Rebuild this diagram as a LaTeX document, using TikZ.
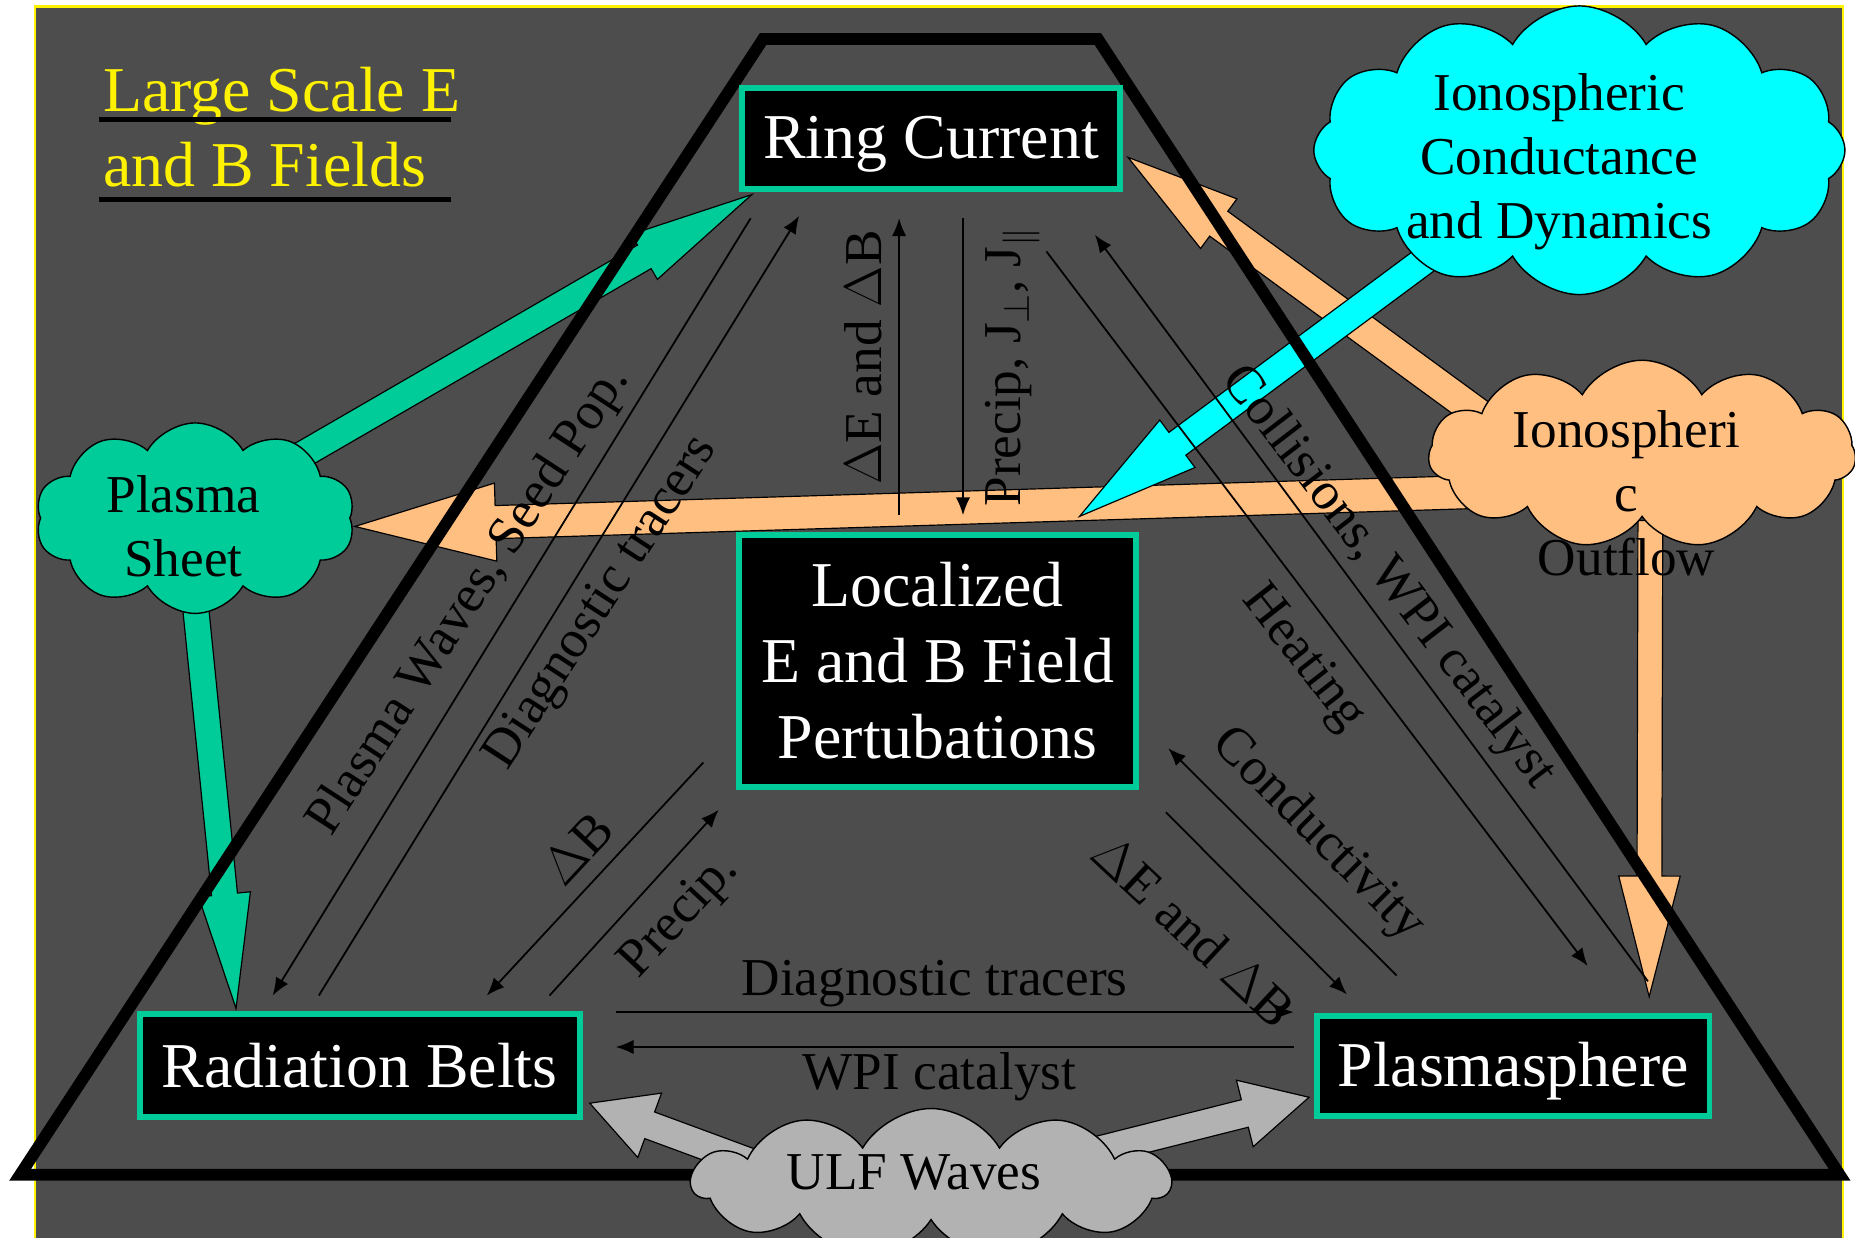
\RequirePackage{fix-cm}
\documentclass[tikz,border=0pt]{standalone}
\usepackage{fontspec}
\setmainfont{Liberation Serif}
\usepackage{tikz}
\usetikzlibrary{arrows.meta,shapes.symbols,calc,positioning}

\definecolor{slate}{RGB}{77,77,77}
\definecolor{seagreen}{RGB}{0,204,153}
\definecolor{iono}{RGB}{0,255,255}
\definecolor{outflow}{RGB}{255,191,128}
\definecolor{ulfgray}{RGB}{178,178,178}

\pgfdeclarelayer{back}
\pgfdeclarelayer{middle}
\pgfsetlayers{back,middle,main}

% block arrow: start, tip, half shaft, half head, head length, colour
\newcommand{\fatarrow}[6]{%
  \coordinate (fa-base) at ($(#2)!#5!(#1)$);
  \filldraw[fill=#6, draw=black, line width=1pt, line join=miter]
    ($(#1)!#3!90:(#2)$) -- ($(fa-base)!#3!90:(#2)$) -- ($(fa-base)!#4!90:(#2)$)
    -- (#2) -- ($(fa-base)!#4!-90:(#2)$) -- ($(fa-base)!#3!-90:(#2)$)
    -- ($(#1)!#3!-90:(#2)$) -- cycle;
}

\begin{document}
\begin{tikzpicture}[x=1pt, y=-1pt,
        every node/.style={align=center},
        region/.style={draw=seagreen, line width=5pt, fill=black, text=white, inner sep=0pt, font=\fontsize{54}{64}\selectfont},
        puff/.style={cloud, cloud puffs=10, cloud puff arc=120, cloud ignores aspect, draw=black, line width=1.2pt, inner sep=0pt},
        puffword/.style={font=\fontsize{45}{54}\selectfont},
        lbl/.style={font=\fontsize{45}{54}\selectfont, inner sep=0pt},
        flow/.style={line width=1.5pt, -{Latex[length=15pt,width=12pt]}},
        title/.style={text=yellow, font=\fontsize{54}{64}\selectfont, anchor=base west, inner sep=0pt}
    ]
    \useasboundingbox (0,0) rectangle (1568,1046);

    % Nodes
    \node[region, minimum width=320pt, minimum height=86pt, text depth=2pt] (ring) at (787,117) {Ring Current};
    \node[region, minimum width=336pt, minimum height=213pt] (local) at (792.5,558.5) {Localized\\E and B Field\\Pertubations};
    \node[region, minimum width=372pt, minimum height=87pt] (radbelts) at (304,900.5) {Radiation Belts};
    \node[region, minimum width=332pt, minimum height=84pt, text depth=2pt] (psphere) at (1279,901) {Plasmasphere};

    \node[title] (title1) at (87,94.5) {Large Scale E};
    \node[title] (title2) at (87,158) {and B Fields};
    \draw[line width=4pt] (84,101) -- (381,101);
    \draw[line width=4pt] (84,168.5) -- (381,168.5);

    \begin{pgfonlayer}{middle}
    % Clouds
    \node[puff, fill=seagreen, minimum width=270pt, minimum height=161pt] (psheet) at (165,438) {};
    \node[puffword] (psheettext) at (155,445) {Plasma\\Sheet};
    \node[puff, fill=iono, cloud puffs=12, minimum width=449pt, minimum height=244pt] (ionoc) at (1335,127) {};
    \node[puffword] (ionoctext) at (1318,137) {Ionospheric\\Conductance\\and Dynamics};
    \node[puff, fill=outflow, cloud puffs=11, minimum width=361pt, minimum height=159pt] (ionoo) at (1388,384) {};
    \node[puffword] (ionootext) at (1375,417) {Ionospheri\\c\\Outflow};
    \node[puff, fill=ulfgray, cloud puffs=11, minimum width=404pt, minimum height=126pt] (ulf) at (787,1000) {};
    \node[puffword] (ulftext) at (772.5,991) {ULF Waves};
    \end{pgfonlayer}

    \begin{pgfonlayer}{back}
    \fill[white] (0,0) rectangle (1568,1046);
    \filldraw[fill=slate, draw=yellow, line width=2pt] (29.5,5.6) rectangle (1558,1070);

    % Block arrows
    \coordinate (o2rc-s) at ([shift={(-105,-10)}]ionoo.center);
    \coordinate (o2rc-t) at ([shift={(4,16)}]ring.east);
    \coordinate (o2ps-s) at ([shift={(-98,30.5)}]ionoo.center);
    \coordinate (o2ps-t) at ([shift={(135,7)}]psheet.center);
    \coordinate (o2pp-s) at ([shift={(7,56)}]ionoo.center);
    \coordinate (o2pp-t) at ([shift={(115,-14)}]psphere.north);
    \coordinate (g2rc-s) at ([shift={(55,-33)}]psheet.center);
    \coordinate (g2rc-t) at ([shift={(11,2)}]ring.south west);
    \coordinate (g2rb-s) at ([shift={(-3,42)}]psheet.center);
    \coordinate (g2rb-t) at ([shift={(84,-2)}]radbelts.north west);
    \coordinate (c2lo-s) at ([shift={(-85,59)}]ionoc.center);
    \coordinate (c2lo-t) at ([shift={(-50.5,-13)}]local.north east);
    \coordinate (u2rb-s) at ([shift={(-111,-2)}]ulf.center);
    \coordinate (u2rb-t) at ([shift={(6,-14)}]radbelts.south east);
    \coordinate (u2pp-s) at ([shift={(119,-22)}]ulf.center);
    \coordinate (u2pp-t) at ([shift={(-4,-18)}]psphere.south west);

    \fatarrow{o2rc-s}{o2rc-t}{13pt}{26pt}{95pt}{outflow}
    \fatarrow{o2ps-s}{o2ps-t}{14pt}{33pt}{119pt}{outflow}
    \fatarrow{o2pp-s}{o2pp-t}{10.5pt}{26pt}{102pt}{outflow}
    \fatarrow{g2rc-s}{g2rc-t}{11.5pt}{22pt}{105pt}{seagreen}
    \fatarrow{g2rb-s}{g2rb-t}{11pt}{22pt}{97pt}{seagreen}
    \fatarrow{c2lo-s}{c2lo-t}{12pt}{25pt}{103pt}{iono}
    \fatarrow{u2rb-s}{u2rb-t}{12pt}{29pt}{54pt}{ulfgray}
    \fatarrow{u2pp-s}{u2pp-t}{12pt}{29pt}{56pt}{ulfgray}

    % Triangle
    \draw[line width=10pt, line join=miter] (17,993) -- (645,33) -- (928,33) -- (1555,993) -- cycle;
    \end{pgfonlayer}

    \begin{pgfonlayer}{middle}
    % Edges
    \draw[flow] ([shift={(10,22)}]ring.south west) -- ([shift={(115,-13)}]radbelts.north west);
    \draw[flow] ([shift={(154,-13)}]radbelts.north west) -- ([shift={(51,20)}]ring.south west);
    \draw[flow] ([shift={(-32.5,-14)}]local.north) -- ([shift={(-27,22)}]ring.south);
    \draw[flow] ([shift={(27,22)}]ring.south) -- ([shift={(21.5,-14)}]local.north);
    \draw[flow] ([shift={(-65,50)}]ring.south east) -- ([shift={(63,-40)}]psphere.north);
    \draw[flow] ([shift={(114,-27)}]psphere.north) -- ([shift={(-24,36)}]ring.south east);
    \draw[flow] ([shift={(-27.5,-23)}]local.south west) -- ([shift={(-81,-13)}]radbelts.north east);
    \draw[flow] ([shift={(-28,-13)}]radbelts.north east) -- ([shift={(-14.5,17)}]local.south west);
    \draw[flow] ([shift={(70,-32)}]psphere.north west) -- ([shift={(24.5,-35)}]local.south east);
    \draw[flow] ([shift={(22.5,19)}]local.south east) -- ([shift={(28,-16)}]psphere.north west);
    \draw[flow] ([shift={(28,1)}]radbelts.north east) -- ([shift={(-17,-1)}]psphere.north west);
    \draw[flow] ([shift={(-17,-16)}]psphere.west) -- ([shift={(28,-15.5)}]radbelts.east);

    % Labels
    \node[lbl, rotate=57] (lwaves) at (397,508) {Plasma Waves, Seed Pop.};
    \node[lbl, rotate=57] (ltracers) at (509,510) {Diagnostic tracers};
    \node[lbl, rotate=90] (lfields) at (730,302) {$\Delta$E and $\Delta$B};
    \node[lbl, rotate=90] (lprecip) at (856,310) {Precip, J$_\perp$, J$_\parallel$};
    \node[lbl, rotate=-52.5] (lcoll) at (1173,488) {Collisions, WPI catalyst};
    \node[lbl, rotate=-52] (lheat) at (1101,557) {Heating};
    \node[lbl, rotate=47] (ldb) at (488,717) {$\Delta$B};
    \node[lbl, rotate=47] (lprecip2) at (575,775) {Precip.};
    \node[lbl, rotate=-45] (lcond) at (1114,706) {Conductivity};
    \node[lbl, rotate=-43] (lfields2) at (1009,787) {$\Delta$E and $\Delta$B};
    \node[lbl] (ltracers2) at (790,831.5) {Diagnostic tracers};
    \node[lbl] (lwpi) at (794,910.5) {WPI catalyst};
    \end{pgfonlayer}

\end{tikzpicture}
\end{document}
